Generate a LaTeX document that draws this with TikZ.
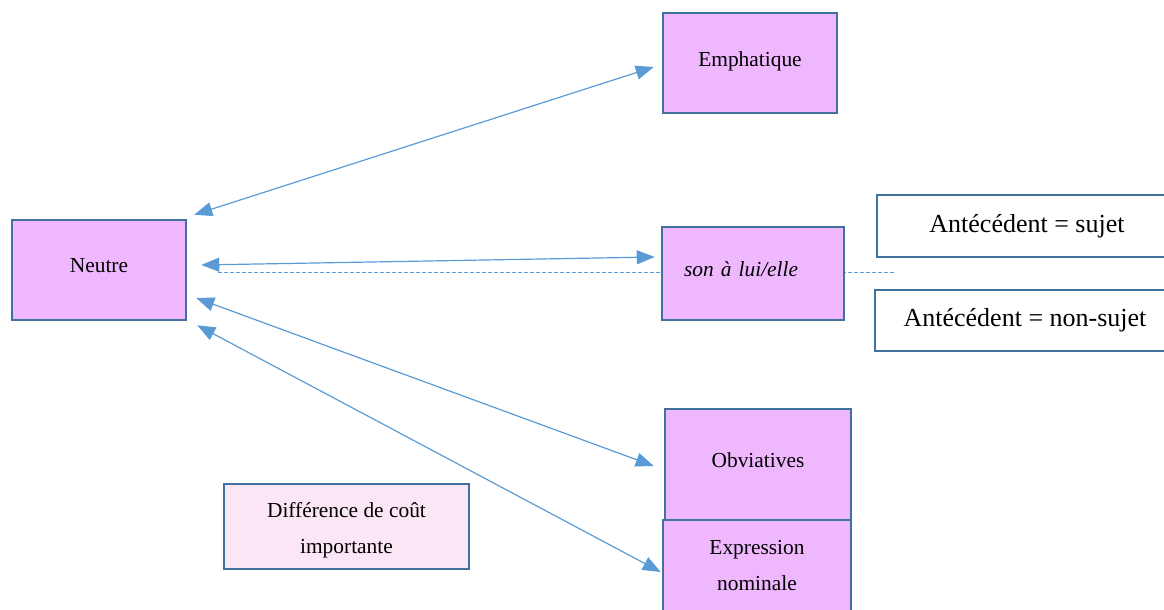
\documentclass[tikz,border=0pt]{standalone}
\usepackage{fontspec}
\setmainfont{Liberation Serif}
\usetikzlibrary{arrows.meta}
\definecolor{boxfill}{HTML}{EFB8FE}
\definecolor{boxedge}{HTML}{41719C}
\definecolor{notefill}{HTML}{FBE6F5}
\definecolor{linkblue}{HTML}{5B9BD5}

\begin{document}
\begin{tikzpicture}[x=0.5pt,y=-0.5pt,
  card/.style={draw=boxedge,fill=boxfill,line width=1.25pt,inner sep=0pt,align=center,
               text depth=4.3pt,font=\fontsize{10.7}{18}\selectfont},
  cond/.style={draw=boxedge,fill=white,line width=1.25pt,inner sep=0pt,
               font=\fontsize{13}{15}\selectfont,minimum width=150pt,minimum height=31pt},
  link/.style={draw=linkblue,line width=0.6pt,
               arrows={Triangle[length=9pt,width=7pt]-Triangle[length=9pt,width=7pt]}}]
\useasboundingbox (0,0) rectangle (1164,610);
\clip (0,0) rectangle (1164,610);
\node[card,minimum width=87pt,minimum height=50pt] (neutre) at (99,270) {Neutre};
\node[card,minimum width=87pt,minimum height=50pt] (emph) at (750,63) {Emphatique};
% dashed guide behind the middle box
\draw[linkblue,line width=0.5pt,dash pattern=on 2pt off 1pt]
  ([shift={(31,3)}]neutre.east) -- ([shift={(708,3)}]neutre.east);
\node[card,minimum width=91pt,minimum height=46.5pt,align=left,text width=69pt,
      inner xsep=11pt] (son) at (753,273.5) {\itshape son à lui/elle};
\node[card,minimum width=93pt,minimum height=55.5pt] (obv) at (758,464.5) {Obviatives};
\node[card,minimum width=94pt,minimum height=50pt] (expr) at (757,570) {Expression\\nominale};
\node[card,fill=notefill,minimum width=122.5pt,minimum height=42.5pt,text depth=2.3pt,
      text height=29.4pt] (diff) at (346.5,526.5) {Différence de coût\\importante};
\node[cond] (antsuj) at (1027,226) {Antécédent = sujet};
\node[cond,minimum height=30.5pt] (antnon) at (1025,320.5) {Antécédent = non-sujet};
\draw[link] ([shift={(7,-4)}]neutre.north east) -- ([shift={(-8,4)}]emph.west);
\draw[link] ([shift={(14,-5)}]neutre.east) -- ([shift={(-6,-16.5)}]son.west);
\draw[link] ([shift={(9,28)}]neutre.east) -- ([shift={(-10,1.5)}]obv.west);
\draw[link] ([shift={(10,4)}]neutre.south east) -- ([shift={(-1,2)}]expr.west);
\end{tikzpicture}
\end{document}
